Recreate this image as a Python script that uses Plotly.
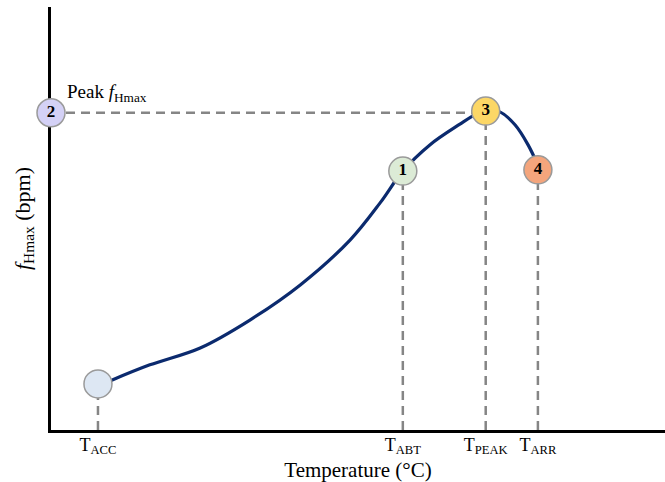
import plotly.graph_objects as go

# Curve (arbitrary units: x = temperature, y = fHmax)
curve_x = [9.6, 16.1, 24.3, 32.4, 40.6, 48.7, 53.6, 57.3, 61.7, 66.6, 69.5, 70.8, 73.1, 75.6, 77.7, 79.3]
curve_y = [11.6, 15.4, 19.4, 26.0, 34.3, 44.9, 53.7, 61.2, 67.4, 72.3, 74.9, 75.6, 75.2, 72.1, 67.4, 62.6]

# Key points
pt_labels = ["", "1", "3", "4", "2"]
pt_x = [7.65, 57.3, 70.8, 79.3, 0.0]
pt_y = [10.9, 61.2, 75.4, 61.5, 75.0]
pt_colors = ["#dde7f3", "#dcebd6", "#fcd766", "#f4a57c", "#d4d1f6"]

# Tick labels
tick_vals = [7.65, 57.3, 70.8, 79.3]
tick_text = ["T<sub>ACC</sub>", "T<sub>ABT</sub>", "T<sub>PEAK</sub>", "T<sub>ARR</sub>"]

font_fam = "Liberation Serif, Times New Roman, serif"
dash_col = "#858585"

fig = go.Figure()

# Vertical dashed guide lines
for xv, yv in zip(pt_x[:4], pt_y[:4]):
    fig.add_trace(go.Scatter(x=[xv, xv], y=[0, yv], mode="lines",
                             line=dict(color=dash_col, width=2.5, dash="9px,6px"),
                             hoverinfo="skip", showlegend=False, cliponaxis=False))
# Horizontal dashed line from point 2 to point 3
fig.add_trace(go.Scatter(x=[pt_x[4], pt_x[2]], y=[pt_y[4], pt_y[4]], mode="lines",
                         line=dict(color=dash_col, width=2.5, dash="9px,6px"),
                         hoverinfo="skip", showlegend=False, cliponaxis=False))

# Curve
fig.add_trace(go.Scatter(x=curve_x, y=curve_y, mode="lines",
                         line=dict(color="#0b2a6e", width=3.2, shape="spline", smoothing=1.0),
                         showlegend=False))

# Markers
fig.add_trace(go.Scatter(x=pt_x, y=pt_y, mode="markers+text",
                         marker=dict(size=28, color=pt_colors, line=dict(color="#9a9a9a", width=1.5)),
                         text=["<b>%s</b>" % t if t else "" for t in pt_labels],
                         textposition="middle center",
                         textfont=dict(family=font_fam, size=17, color="black"),
                         showlegend=False, cliponaxis=False))

fig.add_annotation(x=0, y=pt_y[4], xref="x", yref="y", xshift=14, yshift=20,
                   text="Peak <i>f</i><sub>Hmax</sub>", showarrow=False, xanchor="left",
                   font=dict(family=font_fam, size=19, color="black"))

fig.update_layout(
    width=665, height=482,
    margin=dict(l=51, r=0, t=7, b=52),
    paper_bgcolor="white", plot_bgcolor="white",
    font=dict(family=font_fam, color="black"),
    xaxis=dict(range=[0, 100], showgrid=False, zeroline=False, showline=True, layer="below traces",
               linecolor="black", linewidth=3, tickvals=tick_vals, ticktext=tick_text,
               tickfont=dict(size=18, family=font_fam), ticks="", ticklabelstandoff=-4,
               title=dict(text="Temperature (°C)", font=dict(size=21, family=font_fam), standoff=6)),
    yaxis=dict(range=[0, 100], showgrid=False, zeroline=False, showline=True, layer="below traces",
               linecolor="black", linewidth=3, showticklabels=False, ticks="",
               title=dict(text="<i>f</i><sub>Hmax</sub> (bpm)", font=dict(size=22, family=font_fam), standoff=12)),
)

fig.write_html("out.html")
